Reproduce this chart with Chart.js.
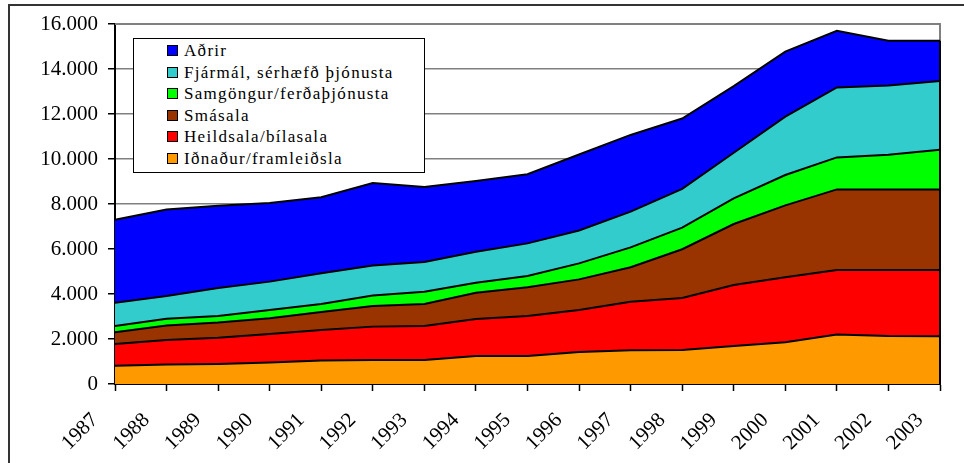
<!DOCTYPE html>
<html>
<head>
<meta charset="utf-8">
<script src="https://cdn.jsdelivr.net/npm/chart.js@4.4.1/dist/chart.umd.min.js"></script>
<style>
    html, body { margin: 0; padding: 0; background: #fff; overflow: hidden; }
    #wrap { position: relative; width: 964px; height: 463px; }
    #frame { position: absolute; left: 8px; top: 4px; width: 1000px; height: 500px;
        border-left: 2px solid #333; border-top: 2px solid #333; }
    #legend { position: absolute; left: 133px; top: 38px; width: 290px; height: 133px;
        border: 1px solid #000; background: #fff;
        font-family: "Liberation Serif", "Times New Roman", "DejaVu Serif", serif;
        font-size: 17px; letter-spacing: 1.3px; color: #000; }
    #legend div { position: absolute; left: 33px; height: 20px; line-height: 20px; white-space: nowrap; }
    #legend span { display: inline-block; width: 9px; height: 9px; border: 1px solid #000;
        margin-right: 6px; vertical-align: 0px; }
</style>
</head>
<body>
<div id="wrap">
    <div id="frame"></div>
    <canvas id="chart" width="964" height="463"></canvas>
    <div id="legend"></div>
</div>
<script>
const years = ['1987', '1988', '1989', '1990', '1991', '1992', '1993', '1994', '1995',
    '1996', '1997', '1998', '1999', '2000', '2001', '2002', '2003'];

const idnadur = [810, 870, 890, 960, 1040, 1070, 1070, 1240, 1240, 1420, 1500, 1510, 1690, 1860, 2200, 2130, 2120];
const heildsala = [970, 1090, 1170, 1260, 1360, 1480, 1510, 1650, 1780, 1870, 2160, 2310, 2710, 2880, 2870, 2940, 2950];
const smasala = [520, 640, 670, 700, 800, 920, 980, 1170, 1280, 1360, 1530, 2170, 2710, 3200, 3580, 3580, 3580];
const samgongur = [280, 300, 290, 370, 360, 460, 540, 440, 500, 710, 880, 960, 1140, 1350, 1420, 1540, 1760];
const fjarmal = [1030, 1010, 1250, 1260, 1360, 1340, 1320, 1380, 1450, 1460, 1590, 1720, 2030, 2590, 3110, 3080, 3060];
const adrir = [3690, 3850, 3650, 3490, 3380, 3660, 3340, 3140, 3070, 3380, 3410, 3130, 2960, 2890, 2520, 1990, 1790];

const yTicks = [0, 2000, 4000, 6000, 8000, 10000, 12000, 14000, 16000];

const series = [
    { label: 'Iðnaður/framleiðsla', data: idnadur, color: '#FF9900' },
    { label: 'Heildsala/bílasala', data: heildsala, color: '#FF0000' },
    { label: 'Smásala', data: smasala, color: '#993300' },
    { label: 'Samgöngur/ferðaþjónusta', data: samgongur, color: '#00FF00' },
    { label: 'Fjármál, sérhæfð þjónusta', data: fjarmal, color: '#33CCCC' },
    { label: 'Aðrir', data: adrir, color: '#0000FF' },
];

// legend, top entry is the last series
let legend = document.getElementById('legend');
series.slice().reverse().forEach((s, i) => {
    let row = document.createElement('div');
    row.style.top = (2 + i * 21.5) + 'px';
    row.innerHTML = '<span style="background:' + s.color + '"></span>' + s.label;
    legend.appendChild(row);
});

const serif = '"Liberation Serif", "Times New Roman", serif';

// gray top/right frame of the plot, black closing edge at the last year
const plotFrame = {
    id: 'plotFrame',
    beforeDatasetsDraw(chart) {
        let a = chart.chartArea;
        let ctx = chart.ctx;
        ctx.save();
        ctx.strokeStyle = '#808080';
        ctx.lineWidth = 2;
        ctx.beginPath();
        ctx.moveTo(a.left, a.top);
        ctx.lineTo(a.right, a.top);
        ctx.lineTo(a.right, a.bottom);
        ctx.stroke();
        ctx.restore();
    },
    afterDatasetsDraw(chart) {
        let a = chart.chartArea;
        let ctx = chart.ctx;
        let total = series.reduce((sum, s) => sum + s.data[s.data.length - 1], 0);
        let yTop = chart.scales.y.getPixelForValue(total);
        ctx.save();
        ctx.strokeStyle = '#000';
        ctx.lineWidth = 2;
        ctx.beginPath();
        ctx.moveTo(a.right, a.bottom);
        ctx.lineTo(a.right, yTop);
        ctx.stroke();
        ctx.restore();
    },
};

new Chart(document.getElementById('chart'), {
    type: 'line',
    data: {
        labels: years,
        datasets: series.map((s, i) => ({
            label: s.label,
            data: s.data,
            backgroundColor: s.color,
            borderColor: '#000',
            borderWidth: 2,
            pointRadius: 0,
            tension: 0,
            fill: i === 0 ? 'origin' : '-1',
        })),
    },
    options: {
        responsive: false,
        animation: false,
        layout: {
            padding: { left: 0, top: 24, right: 24, bottom: 0 },
        },
        plugins: {
            legend: { display: false },
            tooltip: { enabled: false },
        },
        scales: {
            x: {
                offset: false,
                grid: {
                    drawOnChartArea: false,
                    tickLength: 7,
                    tickColor: '#000',
                    tickWidth: 1.5,
                },
                border: { color: '#000', width: 2 },
                ticks: {
                    minRotation: 45,
                    maxRotation: 45,
                    color: '#000',
                    padding: 17,
                    labelOffset: -20,
                    font: { family: serif, size: 21 },
                },
                afterFit: (scale) => {
                    scale.height = 79;
                    scale.paddingLeft = 0;
                    scale.paddingRight = 0;
                },
            },
            y: {
                stacked: true,
                min: 0,
                max: 16000,
                afterBuildTicks: (scale) => {
                    scale.ticks = yTicks.map(v => ({ value: v }));
                },
                grid: {
                    color: '#808080',
                    lineWidth: 1.5,
                    tickLength: 7,
                    tickColor: '#000',
                },
                border: { color: '#000', width: 2 },
                ticks: {
                    color: '#000',
                    padding: 10,
                    font: { family: serif, size: 21 },
                    callback: (v) => v.toString().replace(/\B(?=(\d{3})+(?!\d))/g, '.'),
                },
                afterFit: (scale) => { scale.width = 115; },
            },
        },
    },
    plugins: [plotFrame],
});
</script>
</body>
</html>
